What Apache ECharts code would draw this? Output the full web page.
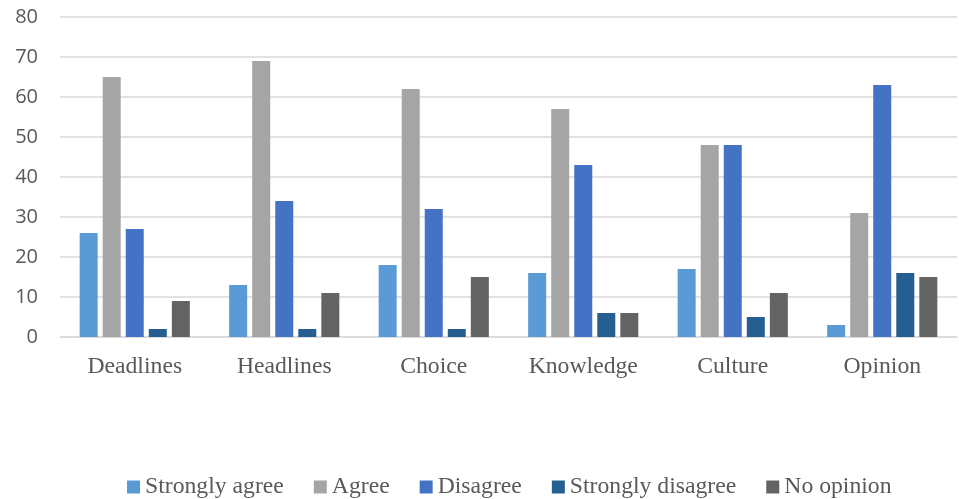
<!DOCTYPE html>
<html>
<head>
<meta charset="utf-8">
<script src="https://cdn.jsdelivr.net/npm/echarts@6/dist/echarts.min.js"></script>
<style>
html,body{margin:0;padding:0;background:#fff;}
#chart{width:959px;height:499px;}
</style>
</head>
<body>
<div id="chart"></div>
<script>
const categories = ['Deadlines', 'Headlines', 'Choice', 'Knowledge', 'Culture', 'Opinion'];
const stronglyAgree = [26, 13, 18, 16, 17, 3];
const agree = [65, 69, 62, 57, 48, 31];
const disagree = [27, 34, 32, 43, 48, 63];
const stronglyDisagree = [2, 2, 2, 6, 5, 16];
const noOpinion = [9, 11, 15, 6, 11, 15];
const seriesNames = ['Strongly agree', 'Agree', 'Disagree', 'Strongly disagree', 'No opinion'];
const colors = ['#5B9BD5', '#A5A5A5', '#4472C4', '#255E91', '#636363'];
const yTicks = {min: 0, max: 80, interval: 10};

const chart = echarts.init(document.getElementById('chart'));
const dataSets = [stronglyAgree, agree, disagree, stronglyDisagree, noOpinion];
chart.setOption({
  animation: false,
  backgroundColor: '#ffffff',
  color: colors,
  grid: {left: 60, right: 2, top: 17, bottom: 162, containLabel: false},
  legend: {
    left: 122, top: 470,
    icon: 'rect', itemWidth: 13, itemHeight: 13, itemGap: 30,
    textStyle: {fontFamily: 'Liberation Serif', fontSize: 23.7, color: '#595959'},
    data: seriesNames
  },
  xAxis: {
    type: 'category', data: categories,
    axisLine: {lineStyle: {color: '#d9d9d9', width: 1.5}},
    axisTick: {show: false},
    axisLabel: {fontFamily: 'Liberation Serif', fontSize: 23.7, color: '#595959', margin: 18}
  },
  yAxis: {
    type: 'value', min: yTicks.min, max: yTicks.max, interval: yTicks.interval,
    axisLine: {show: false}, axisTick: {show: false},
    splitLine: {lineStyle: {color: '#d9d9d9', width: 1.5}},
    axisLabel: {fontFamily: 'Open Sans', fontSize: 20, color: '#595959', margin: 22}
  },
  series: seriesNames.map((n, i) => ({
    name: n, type: 'bar', data: dataSets[i],
    barWidth: 18, barGap: '28%'
  }))
});
</script>
</body>
</html>
